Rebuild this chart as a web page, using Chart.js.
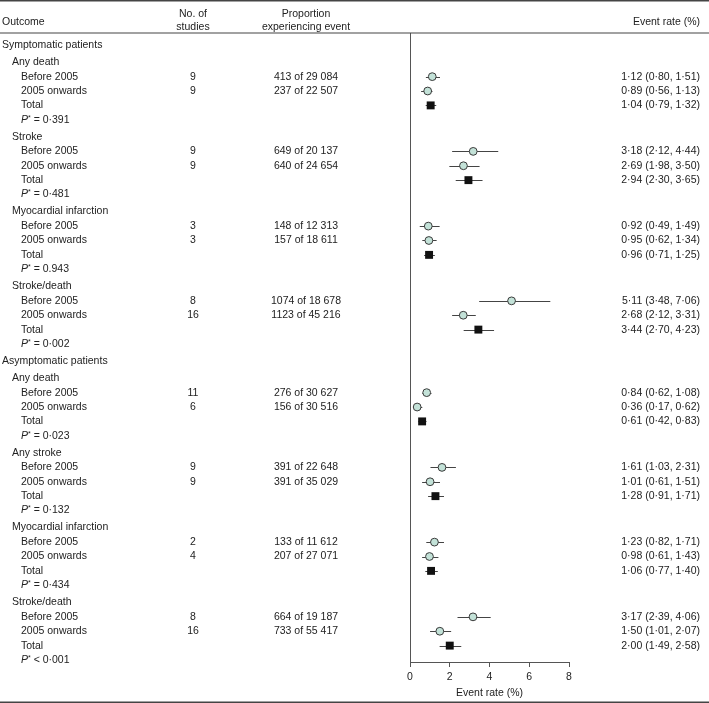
<!DOCTYPE html>
<html>
<head>
<meta charset="utf-8">
<script src="https://cdn.jsdelivr.net/npm/chart.js@4"></script>
<style>
  html, body { margin: 0; padding: 0; background: #fff; }
  canvas { display: block; }
</style>
</head>
<body>
<canvas id="forest" width="709" height="703"></canvas>
<script>
// Event rates before / after 2005, by outcome

const groups = ['Symptomatic patients', 'Asymptomatic patients'];
const outcomes = ['Any death', 'Stroke', 'Myocardial infarction', 'Stroke/death',
                  'Any death', 'Any stroke', 'Myocardial infarction', 'Stroke/death'];
const periods = ['Before 2005', '2005 onwards'];

// one entry per period row (2 per outcome)
const studies  = [9, 9, 9, 9, 3, 3, 8, 16, 11, 6, 9, 9, 2, 4, 8, 16];
const events   = [413, 237, 649, 640, 148, 157, 1074, 1123, 276, 156, 391, 391, 133, 207, 664, 733];
const patients = [29084, 22507, 20137, 24654, 12313, 18611, 18678, 45216,
                  30627, 30516, 22648, 35029, 11612, 27071, 19187, 55417];
const rates = [1.12, 0.89, 3.18, 2.69, 0.92, 0.95, 5.11, 2.68, 0.84, 0.36, 1.61, 1.01, 1.23, 0.98, 3.17, 1.50];
const lower = [0.80, 0.56, 2.12, 1.98, 0.49, 0.62, 3.48, 2.12, 0.62, 0.17, 1.03, 0.61, 0.82, 0.61, 2.39, 1.01];
const upper = [1.51, 1.13, 4.44, 3.50, 1.49, 1.34, 7.06, 3.31, 1.08, 0.62, 2.31, 1.51, 1.71, 1.43, 4.06, 2.07];

// one entry per outcome
const totalRates = [1.04, 2.94, 0.96, 3.44, 0.61, 1.28, 1.06, 2.00];
const totalLower = [0.79, 2.30, 0.71, 2.70, 0.42, 0.91, 0.77, 1.49];
const totalUpper = [1.32, 3.65, 1.25, 4.23, 0.83, 1.71, 1.40, 2.58];
const pLabels = ['= 0·391', '= 0·481', '= 0.943', '= 0·002', '= 0·023', '= 0·132', '= 0·434', '< 0·001'];

const xTicks = [0, 2, 4, 6, 8];

// row layout (in row units)
const ROW = 14.33;
const GAP_HEAD = 17 / ROW;
const GAP_SUB = 14.5 / ROW;

const rows = [];
let yPos = 0;
outcomes.forEach((name, k) => {
    if (k % 4 === 0) {
        if (k) yPos += GAP_HEAD;
        rows.push({ kind: 'group', text: groups[k / 4], y: yPos });
    }
    yPos += GAP_HEAD;
    rows.push({ kind: 'outcome', text: name, y: yPos });
    yPos += GAP_SUB;
    rows.push({ kind: 'period', i: 2 * k, y: yPos });
    yPos += 1;
    rows.push({ kind: 'period', i: 2 * k + 1, y: yPos });
    yPos += 1;
    rows.push({ kind: 'total', i: k, y: yPos });
    yPos += 1;
    rows.push({ kind: 'p', i: k, y: yPos });
});

const periodRows = rows.filter(r => r.kind === 'period');
const totalRows = rows.filter(r => r.kind === 'total');

const FONT = '"Liberation Sans", Arial, Helvetica, sans-serif';
const TEXT = '#222';
const LINE = '#555';
const RIGHT_COL = 700;

const fmt = v => v.toFixed(2).replace('.', '·');
const fmtInt = n => n >= 10000 ? String(n).replace(/\B(?=(\d{3})+(?!\d))/g, ' ') : String(n);

// error bars behind markers
const ciBars = {
    id: 'ciBars',
    beforeDatasetsDraw(chart) {
        const { ctx, scales: { x, y } } = chart;
        ctx.save();
        ctx.strokeStyle = '#444';
        ctx.lineWidth = 1;
        const bar = (lo, hi, row) => {
            const py = Math.round(y.getPixelForValue(row)) + 0.5;
            ctx.beginPath();
            ctx.moveTo(x.getPixelForValue(lo), py);
            ctx.lineTo(x.getPixelForValue(hi), py);
            ctx.stroke();
        };
        periodRows.forEach(r => bar(lower[r.i], upper[r.i], r.y));
        totalRows.forEach(r => bar(totalLower[r.i], totalUpper[r.i], r.y));
        ctx.restore();
    }
};

// table text and rules
const tableText = {
    id: 'tableText',
    afterDraw(chart) {
        const { ctx, width, scales: { y } } = chart;
        ctx.save();
        ctx.textBaseline = 'middle';
        ctx.font = '10.5px ' + FONT;

        // rules
        ctx.fillStyle = '#444';
        ctx.fillRect(0, 0, width, 1.5);
        ctx.fillRect(0, 32.5, width, 1);
        ctx.fillRect(0, 701.5, width, 1.5);
        ctx.fillStyle = TEXT;

        // header
        ctx.textAlign = 'left';
        ctx.fillText('Outcome', 2, 22);
        ctx.textAlign = 'center';
        ctx.fillText('No. of', 193, 14);
        ctx.fillText('studies', 193, 27);
        ctx.fillText('Proportion', 306, 14);
        ctx.fillText('experiencing event', 306, 27);
        ctx.textAlign = 'right';
        ctx.fillText('Event rate (%)', RIGHT_COL, 22);

        rows.forEach(r => {
            const py = y.getPixelForValue(r.y);
            ctx.textAlign = 'left';
            if (r.kind === 'group') {
                ctx.fillText(r.text, 2, py);
            } else if (r.kind === 'outcome') {
                ctx.fillText(r.text, 12, py);
            } else if (r.kind === 'period') {
                ctx.fillText(periods[r.i % 2], 21, py);
                ctx.textAlign = 'center';
                ctx.fillText(String(studies[r.i]), 193, py);
                ctx.fillText(fmtInt(events[r.i]) + ' of ' + fmtInt(patients[r.i]), 306, py);
                ctx.textAlign = 'right';
                ctx.fillText(`${fmt(rates[r.i])} (${fmt(lower[r.i])}, ${fmt(upper[r.i])})`, RIGHT_COL, py);
            } else if (r.kind === 'total') {
                ctx.fillText('Total', 21, py);
                ctx.textAlign = 'right';
                ctx.fillText(`${fmt(totalRates[r.i])} (${fmt(totalLower[r.i])}, ${fmt(totalUpper[r.i])})`, RIGHT_COL, py);
            } else {
                ctx.font = 'italic 10.5px ' + FONT;
                ctx.fillText('P', 21, py);
                let px = 21 + ctx.measureText('P').width;
                ctx.font = '7px ' + FONT;
                ctx.fillText('*', px, py - 2);
                px += ctx.measureText('*').width;
                ctx.font = '10.5px ' + FONT;
                ctx.fillText(' ' + pLabels[r.i], px, py);
            }
        });
        ctx.restore();
    }
};

const lastRow = rows[rows.length - 1].y;

new Chart(document.getElementById('forest'), {
    type: 'scatter',
    data: {
        datasets: [
            {
                label: 'Period',
                data: periodRows.map(r => ({ x: rates[r.i], y: r.y })),
                pointStyle: 'circle',
                pointRadius: 3.9,
                backgroundColor: '#c3e2d8',
                borderColor: '#3a3a3a',
                borderWidth: 1
            },
            {
                label: 'Total',
                data: totalRows.map(r => ({ x: totalRates[r.i], y: r.y })),
                pointStyle: 'rect',
                pointRadius: 5.6,
                backgroundColor: '#111',
                borderColor: '#111',
                borderWidth: 0
            }
        ]
    },
    options: {
        responsive: false,
        animation: false,
        devicePixelRatio: 1,
        layout: { padding: { left: 410, right: 140, top: 33, bottom: 0 } },
        plugins: {
            legend: { display: false },
            tooltip: { enabled: false }
        },
        scales: {
            x: {
                type: 'linear',
                min: 0,
                max: 8,
                afterBuildTicks: s => { s.ticks = xTicks.map(v => ({ value: v })); },
                afterFit: s => { s.height = 41; },
                grid: { display: true, drawOnChartArea: false, drawTicks: true, tickLength: 5, color: LINE },
                border: { display: true, color: LINE, width: 1 },
                ticks: { color: TEXT, padding: 4, font: { family: FONT, size: 10.5 } },
                title: {
                    display: true,
                    text: 'Event rate (%)',
                    color: TEXT,
                    padding: { top: 0, bottom: 4 },
                    font: { family: FONT, size: 10.5 }
                }
            },
            y: {
                type: 'linear',
                reverse: true,
                min: -12 / ROW,
                max: lastRow + 2 / ROW,
                afterFit: s => { s.width = 0; },
                grid: { display: false },
                border: { display: true, color: LINE, width: 1 },
                ticks: { display: false }
            }
        }
    },
    plugins: [ciBars, tableText]
});
</script>
</body>
</html>
